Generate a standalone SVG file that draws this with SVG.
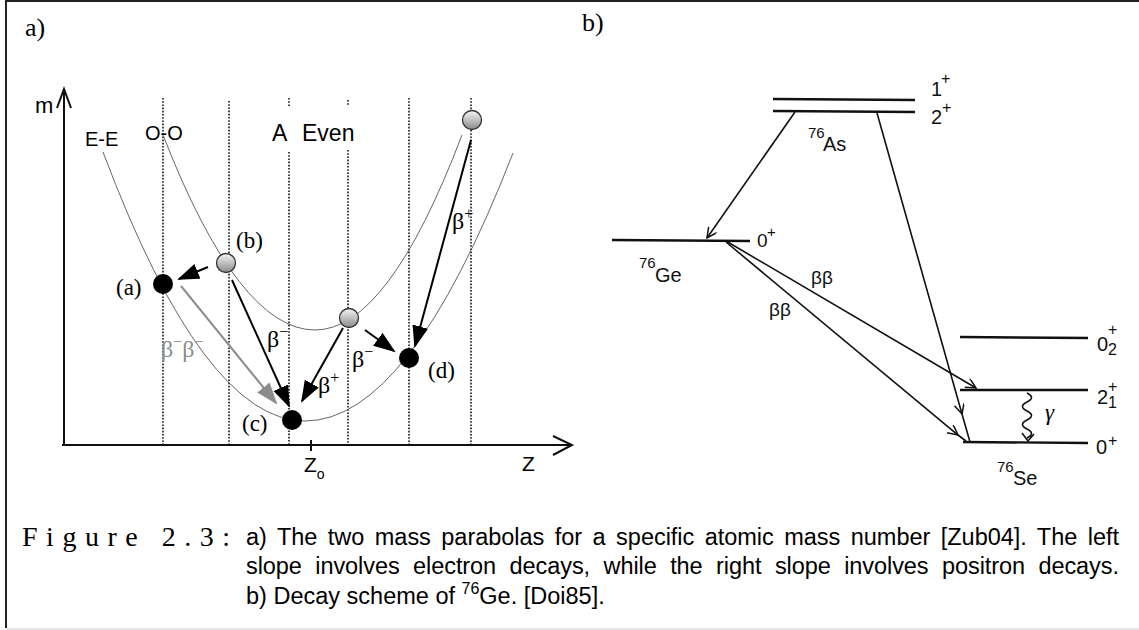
<svg xmlns="http://www.w3.org/2000/svg" width="1139" height="630" viewBox="0 0 1139 630">
<style>
.frame{fill:none;stroke:#222;stroke-width:2}
.axis{fill:none;stroke:#111;stroke-width:2}
.dot{stroke:#111;stroke-width:1.6;stroke-dasharray:1.6 1.6;fill:none}
.par{fill:none;stroke:#555;stroke-width:0.9}
.arr{stroke:#000;stroke-width:2;fill:none;marker-end:url(#ah)}
.garr{stroke:#8c8c8c;stroke-width:2;fill:none;marker-end:url(#gah)}
.sans{font-family:"Liberation Sans",Arial,sans-serif;fill:#000}
.serif{font-family:"Liberation Serif","Times New Roman",serif;fill:#000}
.cap{font-family:"Liberation Sans",Arial,sans-serif;fill:#000;font-size:23.5px}
.lvl{stroke:#111;stroke-width:2.4;fill:none}
.tr{stroke:#111;stroke-width:1.6;fill:none}
.hand{font-family:"Liberation Sans",Arial,sans-serif;fill:#111}
.bc{fill:#000}
.gc{fill:url(#gg);stroke:#333;stroke-width:1.3}
</style>
<defs>
<linearGradient id="gg" x1="0" y1="0" x2="0" y2="1">
<stop offset="0" stop-color="#f6f6f6"/>
<stop offset="1" stop-color="#8a8a8a"/>
</linearGradient>
<marker id="ah" markerUnits="userSpaceOnUse" markerWidth="24" markerHeight="18" refX="20" refY="8" orient="auto"><path d="M0,0 L22,8 L0,16 z" fill="#000"/></marker>
<marker id="gah" markerUnits="userSpaceOnUse" markerWidth="24" markerHeight="18" refX="20" refY="8" orient="auto"><path d="M0,0 L22,8 L0,16 z" fill="#8c8c8c"/></marker>
<marker id="oh" markerUnits="userSpaceOnUse" markerWidth="14" markerHeight="12" refX="11" refY="5" orient="auto"><path d="M1,0 L11,5 L1,10" fill="none" stroke="#111" stroke-width="1.5"/></marker>
</defs>

<g id="frame">
<path class="frame" d="M6,0 V628 M6,1 H1139"/>
<path d="M6,629 H1139" stroke="#ddd" stroke-width="1.5"/>
</g>

<g id="panel-a">
<text class="serif" x="25" y="36" font-size="26">a)</text>
<g id="axes">
<path class="axis" d="M64,446 V90 M57,108 L64,89 L71,108"/>
<path class="axis" d="M62,445 H572 M553,436 L572,445 L553,455"/>
<path class="axis" d="M311,440 V451" stroke-width="1.6"/>
<text class="sans" x="35" y="113" font-size="22">m</text>
<text class="sans" x="522" y="471" font-size="21">Z</text>
<text class="sans" x="304" y="472" font-size="21">Z<tspan font-size="14" dy="7">o</tspan></text>
</g>
<g id="columns">
<path class="dot" d="M163,98 V445 M229,101 V445 M289,98 V107 M289,152 V445 M348,100 V105 M348,150 V445 M409,98 V445 M471,98 V445"/>
</g>
<g id="parabolas">
<path class="par" d="M103,152 Q204,421 305,421 Q409,421 513,153"/>
<path class="par" d="M163,135 Q239,330 315,330 Q388,330 462,135"/>
<text class="sans" x="85" y="146" font-size="20">E-E</text>
<text class="sans" x="145" y="140" font-size="20">O-O</text>
<text class="sans" x="272" y="141" font-size="23">A</text>
<text class="sans" x="302" y="141" font-size="23">Even</text>
</g>
<g id="connectors-a">
<path class="arr" d="M208,267 L179,279"/>
<path class="arr" d="M232,280 L289,406"/>
<path class="garr" d="M181,286 L276,403"/>
<path class="arr" d="M343,328 L302,401"/>
<path class="arr" d="M365,330 L394,351"/>
<path class="arr" d="M471,140 L415,346"/>
<text class="serif" x="267" y="347" font-size="24">β<tspan font-size="16" dy="-10">−</tspan></text>
<text class="serif" x="161" y="357" font-size="24" style="fill:#8c8c8c">β<tspan font-size="16" dy="-10">−</tspan><tspan dy="10">β</tspan><tspan font-size="16" dy="-10">−</tspan></text>
<text class="serif" x="318" y="393" font-size="24">β<tspan font-size="16" dy="-10">+</tspan></text>
<text class="serif" x="352" y="367" font-size="24">β<tspan font-size="16" dy="-10">−</tspan></text>
<text class="serif" x="452" y="229" font-size="24">β<tspan font-size="16" dy="-10">+</tspan></text>
</g>
<g id="node-a"><circle class="bc" cx="163" cy="284" r="10"/><text class="serif" x="116" y="295" font-size="23">(a)</text></g>
<g id="node-b"><circle class="gc" cx="226" cy="263" r="9.5"/><text class="serif" x="236" y="248" font-size="23">(b)</text></g>
<g id="node-c"><circle class="bc" cx="292" cy="420" r="10"/><text class="serif" x="242" y="431" font-size="23">(c)</text></g>
<g id="node-d"><circle class="bc" cx="409" cy="358" r="10"/><text class="serif" x="428" y="378" font-size="23">(d)</text></g>
<g id="node-mid"><circle class="gc" cx="349" cy="318" r="9.5"/></g>
<g id="node-top"><circle class="gc" cx="472" cy="120" r="9.5"/></g>
</g>

<g id="panel-b">
<text class="serif" x="582" y="31" font-size="26">b)</text>
<g id="level-As">
<path class="lvl" d="M773,99 L915,100 M773,111 L915,112"/>
<text class="hand" x="931" y="96" font-size="20">1</text><text class="hand" x="941" y="84" font-size="16">+</text>
<text class="hand" x="931" y="124" font-size="20">2</text><text class="hand" x="942" y="113" font-size="16">+</text>
<text class="hand" x="808" y="138" font-size="15">76</text><text class="hand" x="823" y="151" font-size="20">As</text>
</g>
<g id="level-Ge">
<path class="lvl" d="M612,240 L750,241" stroke-width="2.8"/>
<text class="hand" x="757" y="247" font-size="19">0</text><text class="hand" x="767" y="237" font-size="15">+</text>
<text class="hand" x="639" y="268" font-size="15">76</text><text class="hand" x="655" y="282" font-size="20">Ge</text>
</g>
<g id="level-Se">
<path class="lvl" d="M960,337 L1088,338 M960,390 L1088,390 M963,442 L1088,443"/>
<text class="hand" x="1097" y="351" font-size="20">0</text><text class="hand" x="1108" y="335" font-size="16">+</text><text class="hand" x="1108" y="355" font-size="16">2</text>
<text class="hand" x="1097" y="404" font-size="20">2</text><text class="hand" x="1108" y="392" font-size="16">+</text><text class="hand" x="1108" y="408" font-size="16">1</text>
<text class="hand" x="1096" y="454" font-size="20">0</text><text class="hand" x="1108" y="446" font-size="16">+</text>
<text class="hand" x="997" y="472" font-size="15">76</text><text class="hand" x="1013" y="485" font-size="20">Se</text>
</g>
<g id="connectors-b">
<path class="tr" d="M795,112 L707,238" marker-end="url(#oh)"/>
<path class="tr" d="M877,113 L962,414 L970,442" marker-mid="url(#oh)"/>
<path class="tr" d="M726,241 L976,388" marker-end="url(#oh)"/>
<path class="tr" d="M726,242 L958,435 L966,441" marker-mid="url(#oh)"/>
<path class="tr" d="M1027,393 c6,3 6,6 0,9 c-6,3 -6,6 0,9 c6,3 6,6 0,9 c-6,3 -6,6 0,9 c6,3 6,6 0,9 M1022,433 L1028,441 L1034,434"/>
<text class="hand" x="811" y="284" font-size="19">ββ</text>
<text class="hand" x="769" y="316" font-size="19">ββ</text>
<text class="serif" x="1045" y="420" font-size="23" font-style="italic">γ</text>
</g>
</g>

<g id="caption">
<text class="serif" x="22" y="546" font-size="28" textLength="208" lengthAdjust="spacing">Figure 2.3:</text>
<text class="cap" x="246" y="545" word-spacing="4" textLength="873" lengthAdjust="spacing">a) The two mass parabolas for a specific atomic mass number [Zub04].  The left</text>
<text class="cap" x="246" y="574" word-spacing="7" textLength="873" lengthAdjust="spacing">slope involves electron decays, while the right slope involves positron decays.</text>
<text class="cap" x="246" y="604">b) Decay scheme of <tspan font-size="16" dy="-10">76</tspan><tspan dy="10">Ge. [Doi85].</tspan></text>
</g>
</svg>
